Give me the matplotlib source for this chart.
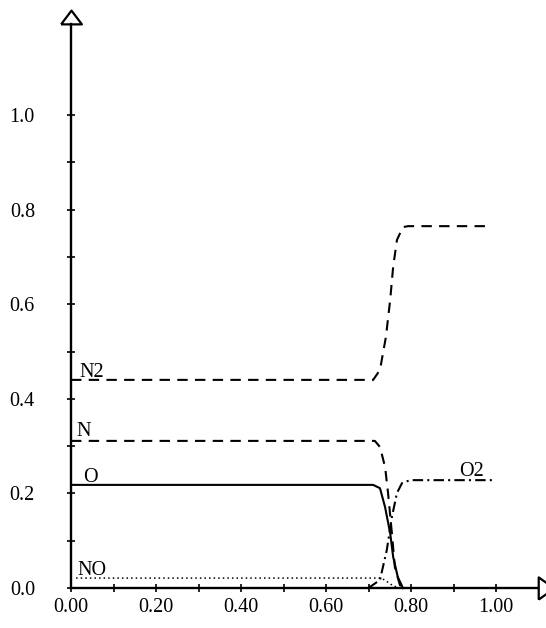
import matplotlib
matplotlib.use("Agg")
import matplotlib.pyplot as plt

plt.rcParams['font.family'] = ['Liberation Serif', 'DejaVu Serif']

# ---- data ----
n2_x = [0.0, 0.711, 0.727, 0.741, 0.751, 0.758, 0.767, 0.781, 0.793, 0.986]
n2_y = [0.440, 0.440, 0.461, 0.531, 0.609, 0.679, 0.736, 0.763, 0.765, 0.765]

n_x = [0.0, 0.715, 0.727, 0.739, 0.746, 0.755, 0.762, 0.774, 0.790]
n_y = [0.311, 0.311, 0.298, 0.256, 0.201, 0.116, 0.044, 0.006, 0.0]

o_x = [0.0, 0.711, 0.727, 0.739, 0.751, 0.758, 0.769, 0.781]
o_y = [0.218, 0.218, 0.211, 0.171, 0.116, 0.066, 0.023, 0.0]

o2_x = [0.700, 0.727, 0.743, 0.755, 0.767, 0.779, 0.798, 0.998]
o2_y = [0.0, 0.017, 0.080, 0.150, 0.201, 0.222, 0.228, 0.228]

no_x = [0.012, 0.729, 0.740, 0.752, 0.770]
no_y = [0.021, 0.021, 0.016, 0.008, 0.0]

x_ticks = [i / 10 for i in range(0, 11)]
x_tick_labels = ["0.00", "", "0.20", "", "0.40", "", "0.60", "", "0.80", "", "1.00"]
y_ticks = [i / 10 for i in range(0, 11)]
y_tick_labels = ["0.0", "", "0.2", "", "0.4", "", "0.6", "", "0.8", "", "1.0"]

labels = ["N2", "N", "O", "O2", "NO"]
label_x = [0.021, 0.012, 0.028, 0.913, 0.014]
label_y = [0.447, 0.322, 0.224, 0.237, 0.028]

# ---- figure ----
fig = plt.figure(figsize=(5.46, 6.28), dpi=100)
ax = fig.add_axes([0, 0, 1, 1])
ax.set_xlim(-71 / 425, 475 / 425)
ax.set_ylim(-40 / 473, 588 / 473)
ax.patch.set_alpha(0)

for s in ("top", "right"):
    ax.spines[s].set_visible(False)
ax.spines["left"].set_position(("data", 0))
ax.spines["bottom"].set_position(("data", 0))
ax.spines["left"].set_bounds(0, 1.192)
ax.spines["bottom"].set_bounds(0, 1.099)
for s in ("left", "bottom"):
    ax.spines[s].set_linewidth(1.7)

ax.set_xticks(x_ticks)
ax.set_xticklabels(x_tick_labels)
ax.set_yticks(y_ticks)
ax.set_yticklabels(y_tick_labels)
ax.tick_params(axis="both", direction="inout", length=6, width=1.2, labelsize=14.5)
ax.tick_params(axis="x", pad=4)
ax.tick_params(axis="y", pad=23)

lw = 1.5
ax.plot(n2_x, n2_y, color="black", lw=lw, linestyle=(0, (5, 3.5)))
ax.plot(n_x, n_y, color="black", lw=lw, linestyle=(0, (5, 3.5)))
ax.plot(o_x, o_y, color="black", lw=lw, linestyle="-")
ax.plot(o2_x, o2_y, color="black", lw=lw, linestyle=(0, (5, 2, 1, 2)))
ax.plot(no_x, no_y, color="black", lw=1.1, linestyle=(0, (1, 2)))

for t, x, y in zip(labels, label_x, label_y):
    ax.text(x, y, t, fontsize=14.5, ha="left", va="baseline")

# axis arrows (hollow triangles)
right_arrow = [(-0.35, -0.5), (0.35, 0.0), (-0.35, 0.5), (-0.35, -0.5)]
up_arrow = [(-0.5, -0.33), (0.0, 0.33), (0.5, -0.33), (-0.5, -0.33)]
ax.plot([1.117], [0], marker=right_arrow, markersize=16, mfc="white",
        mec="black", mew=1.6, clip_on=False, linestyle="none")
ax.plot([0], [1.207], marker=up_arrow, markersize=15, mfc="white",
        mec="black", mew=1.6, clip_on=False, linestyle="none")

fig.savefig("out.png", dpi=100)
